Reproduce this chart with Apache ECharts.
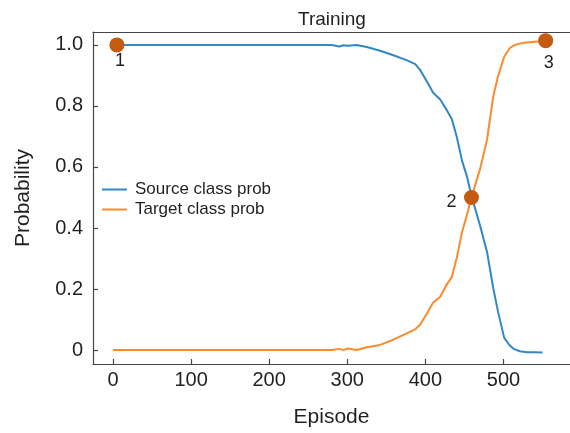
<!DOCTYPE html>
<html>
<head>
<meta charset="utf-8">
<script src="https://cdn.jsdelivr.net/npm/echarts@6/dist/echarts.min.js"></script>
<style>html,body{margin:0;padding:0;background:#fff}#c{width:570px;height:433px}</style>
</head>
<body>
<div id="c"></div>
<script>
const episodes   = [0, 280, 290, 295, 301, 312, 325, 342, 359, 376, 387, 393, 402, 410, 419, 427, 434, 440, 447, 453, 459, 470, 479, 487, 493, 501, 508, 513, 521, 530, 540, 550];
const sourceProb = [1.0, 1.0, 0.995, 0.999, 0.997, 1.0, 0.993, 0.981, 0.966, 0.950, 0.937, 0.919, 0.880, 0.843, 0.821, 0.788, 0.756, 0.701, 0.620, 0.571, 0.506, 0.408, 0.321, 0.202, 0.126, 0.040, 0.015, 0.004, -0.004, -0.007, -0.0075, -0.008];
const targetProb = [0.0, 0.0, 0.004, 0.0, 0.005, 0.0, 0.009, 0.017, 0.034, 0.055, 0.068, 0.082, 0.120, 0.156, 0.175, 0.213, 0.240, 0.300, 0.387, 0.441, 0.500, 0.593, 0.690, 0.832, 0.897, 0.962, 0.989, 0.998, 1.005, 1.008, 1.010, 1.012];
const markerEpisodes = [5, 459, 554];
const markerProbs    = [1.0, 0.5, 1.014];
const markerLabels   = ['1', '2', '3'];
const xTicks = [0, 100, 200, 300, 400, 500];
const yTicks = [0, 0.2, 0.4, 0.6, 0.8, 1.0];
const seriesNames = ['Source class prob', 'Target class prob'];

const labelOffsets = [[3, 16], [-20, 5], [3, 22]];
const txt = '#231f20';
const axisCol = '#454545';
const font = 'Liberation Sans, Arial, sans-serif';

const chart = echarts.init(document.getElementById('c'), null, {renderer: 'canvas'});
chart.setOption({
  animation: false,
  backgroundColor: '#fff',
  textStyle: {fontFamily: font, color: txt},
  title: {
    text: 'Training', left: 293, top: 5,
    textStyle: {fontFamily: font, fontSize: 19, fontWeight: 'normal', color: txt}
  },
  grid: {left: 93, right: 0, top: 32, bottom: 67, show: false},
  legend: {
    orient: 'vertical', left: 97, top: 176, itemWidth: 25, itemHeight: 2, itemGap: 3,
    icon: 'rect',
    data: seriesNames,
    textStyle: {fontFamily: font, fontSize: 17, color: txt, padding: [0, 0, 0, 3]}
  },
  xAxis: [{
    type: 'value', min: -25.6, max: 585.2,
    name: 'Episode', nameLocation: 'middle', nameGap: 43,
    nameTextStyle: {fontFamily: font, fontSize: 21, color: txt},
    axisLine: {show: true, onZero: false, lineStyle: {color: axisCol, width: 1.2}},
    axisTick: {show: true, inside: true, length: 5, lineStyle: {color: axisCol, width: 1.2}, customValues: xTicks},
    axisLabel: {fontFamily: font, fontSize: 20, color: txt, margin: 6, customValues: xTicks},
    splitLine: {show: false}
  }, {
    type: 'value', position: 'top', min: -25.6, max: 585.2,
    axisLine: {show: true, onZero: false, lineStyle: {color: axisCol, width: 1.2}},
    axisTick: {show: false}, axisLabel: {show: false}, splitLine: {show: false}
  }],
  yAxis: {
    type: 'value', min: -0.0456, max: 1.0423,
    name: 'Probability', nameLocation: 'middle', nameGap: 59,
    nameTextStyle: {fontFamily: font, fontSize: 21, color: txt},
    axisLine: {show: true, onZero: false, lineStyle: {color: axisCol, width: 1.2}},
    axisTick: {show: true, inside: true, length: 5, lineStyle: {color: axisCol, width: 1.2}, customValues: yTicks},
    axisLabel: {fontFamily: font, fontSize: 20, color: txt, margin: 10, customValues: yTicks,
      formatter: v => (Math.abs(v) < 1e-9 ? '0' : v.toFixed(1))},
    splitLine: {show: false}
  },
  series: [
    {
      name: seriesNames[0], type: 'line', symbol: 'none', z: 2,
      lineStyle: {color: '#3288c6', width: 2},
      itemStyle: {color: '#3288c6'},
      data: episodes.map((e, i) => [e, sourceProb[i]])
    },
    {
      name: seriesNames[1], type: 'line', symbol: 'none', z: 2,
      lineStyle: {color: '#fd8b2c', width: 2},
      itemStyle: {color: '#fd8b2c'},
      data: episodes.map((e, i) => [e, targetProb[i]])
    },
    {
      name: 'markers', type: 'scatter', symbolSize: 15, z: 5,
      itemStyle: {color: '#c55a11', opacity: 1},
      data: markerEpisodes.map((e, i) => ({
        name: markerLabels[i], value: [e, markerProbs[i]],
        label: {show: true, position: 'inside', offset: labelOffsets[i], formatter: '{b}',
          fontFamily: font, fontSize: 18, color: txt}
      }))
    }
  ]
});
</script>
</body>
</html>
